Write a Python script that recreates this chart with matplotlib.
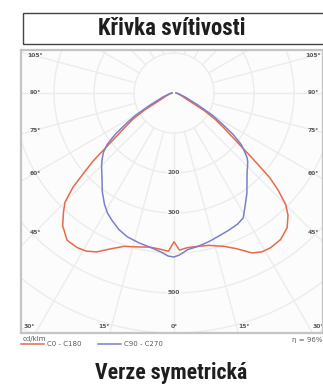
import numpy as np
import matplotlib.pyplot as plt
from matplotlib import font_manager
from matplotlib.patches import Rectangle

# intensity (cd/klm), per gamma angle (deg from nadir)
gamma = [0, 2, 5, 9, 13, 18, 22, 26, 29, 32, 36, 40, 43, 45, 47, 48.5, 50,
         52.5, 55, 57.5, 60, 63, 70, 80, 90]
c0 = [372, 393, 388, 388, 391, 403, 420, 445, 454, 456, 453, 440, 418, 395,
      356, 320, 262, 193, 152, 122, 85, 40, 20, 10, 5]
c180 = [372, 396, 392, 390, 395, 403, 420, 442, 452, 456, 455, 433, 405, 385,
        345, 300, 262, 190, 150, 122, 85, 40, 20, 10, 5]
c90 = [410, 405, 393, 388, 382, 374, 369, 364, 357, 335, 310, 284, 268, 260,
       252, 244, 232, 212, 180, 140, 110, 70, 30, 12, 5]
c270 = [410, 408, 398, 390, 385, 378, 368, 354, 343, 328, 305, 280, 265, 256,
        246, 238, 230, 210, 178, 140, 110, 70, 30, 12, 5]

grid_r = [100, 200, 300, 400, 500, 600, 700]
radial_labels = [200, 300, 500]
side_labels = [105, 90, 75, 60, 45]
bottom_labels = [-30, -15, 0, 15, 30]

RED = '#e76a4a'
BLUE = '#7b80c8'
GRID = '#ececec'
LBL = '#5a5a5a'

W, H = 323, 387
OX, OY, S = 174, 93, 2.5   # origin in px, cd/klm per px


def fx(x):
    return x / W


def fy(y):
    return 1 - y / H


def half(g, vals, side):
    g = np.radians(g)
    v = np.asarray(vals, float)
    return side * v * np.sin(g), -v * np.cos(g)


names = {f.name for f in font_manager.fontManager.ttflist}
title_font = next((n for n in ['Liberation Sans Narrow', 'Roboto Condensed',
                               'Liberation Sans'] if n in names), 'DejaVu Sans')
title_size = 16.5 if 'Narrow' in title_font or 'Condensed' in title_font else 13.5

fig = plt.figure(figsize=(W / 100, H / 100), dpi=100)
ax = fig.add_axes([fx(21), fy(333), fx(323) - fx(21), fy(50) - fy(333)])
ax.set_facecolor('#fcfcfc')
xmin, xmax = (21 - OX) * S, (323 - OX) * S
ymin, ymax = -(333 - OY) * S, (OY - 50) * S
ax.set_xlim(xmin, xmax)
ax.set_ylim(ymin, ymax)
ax.set_xticks([])
ax.set_yticks([])
for sp in ax.spines.values():
    sp.set_color('#c4c4c4')
    sp.set_linewidth(1.6)

# polar grid
t = np.linspace(0, 2 * np.pi, 400)
for r in grid_r:
    ax.plot(r * np.cos(t), r * np.sin(t), color=GRID, lw=1.0, zorder=1)
for a in range(0, 360, 15):
    ar = np.radians(a)
    ax.plot([100 * np.sin(ar), 1200 * np.sin(ar)],
            [-100 * np.cos(ar), -1200 * np.cos(ar)],
            color=GRID, lw=1.0, zorder=1)

# curves
g_rev = gamma[::-1]
xl, yl = half(g_rev, c180[::-1], -1)
xr, yr = half(gamma, c0, 1)
ax.plot(np.r_[xl, xr], np.r_[yl, yr], color=RED, lw=1.1, zorder=3,
        label='C0 - C180')
xl, yl = half(g_rev, c270[::-1], -1)
xr, yr = half(gamma, c90, 1)
ax.plot(np.r_[xl, xr], np.r_[yl, yr], color=BLUE, lw=1.1, zorder=3,
        label='C90 - C270')

# labels
for r in radial_labels:
    ax.text(0, -r, str(r), ha='center', va='center', fontsize=4.3,
            fontweight='bold', color=LBL, zorder=2,
            bbox=dict(boxstyle='square,pad=0.1', fc='#fcfcfc', ec='none'))
lx = (35 - OX) * S
for a in side_labels:
    ar = np.radians(a)
    y = lx / np.tan(ar)
    for side in (-1, 1):
        ax.text(side * -lx, y, f'{a}°', ha='center', va='center',
                fontsize=4.3, fontweight='bold', color=LBL, zorder=2)
yb = -(327 - OY) * S
for a in bottom_labels:
    x = ymin * -np.tan(np.radians(a))
    ha = 'center' if a == 0 else ('right' if a < 0 else 'left')
    ax.text(x, yb, f'{abs(a)}°', ha=ha, va='center', fontsize=4.3,
            fontweight='bold', color=LBL, zorder=2)

# legend area
fig.text(fx(23), fy(339), 'cd/klm', fontsize=5, color='#555566',
         ha='left', va='center')
fig.text(fx(322), fy(340), 'η = 96%', fontsize=5, color=LBL,
         ha='right', va='center')
h, l = ax.get_legend_handles_labels()
fig.legend(h, l, loc='upper left', bbox_to_anchor=(fx(21), fy(341)),
           ncol=2, frameon=False, fontsize=5, handlelength=3.3,
           handletextpad=0.4, columnspacing=2.4, borderpad=0,
           borderaxespad=0, labelcolor=LBL)

# titles
fig.patches.append(Rectangle((fx(23), fy(44)), 1.1, fy(13) - fy(44),
                             transform=fig.transFigure, fill=False,
                             ec='#444444', lw=1.0))
fig.text(fx(172), fy(28.5), 'Křivka svítivosti', ha='center', va='center',
         fontsize=title_size, fontweight='bold', family=title_font,
         color='#1e1e1e')
fig.text(fx(171), fy(373), 'Verze symetrická', ha='center', va='center',
         fontsize=title_size - 0.8, fontweight='bold', family=title_font,
         color='#1e1e1e')

fig.savefig('out.png', dpi=100, facecolor='white')
